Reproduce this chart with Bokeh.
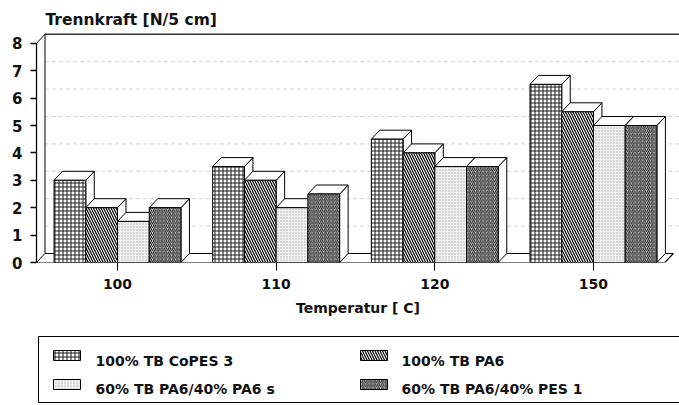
from bokeh.plotting import figure
from bokeh.models import Range1d, FixedTicker
from bokeh.layouts import column
from bokeh.embed import file_html
from bokeh.resources import INLINE
from bokeh.core.properties import value

# ---------------- data ----------------
temperatures = ["100", "110", "120", "150"]
series_names = ["100% TB CoPES 3", "100% TB PA6",
                "60% TB PA6/40% PA6 s", "60% TB PA6/40% PES 1"]
copes3 = [3.0, 3.5, 4.5, 6.5]
pa6 = [2.0, 3.0, 4.0, 5.5]
pa6_pa6s = [1.5, 2.0, 3.5, 5.0]
pa6_pes1 = [2.0, 2.5, 3.5, 5.0]
y_ticks = [0, 1, 2, 3, 4, 5, 6, 7, 8]
title_text = "Trennkraft [N/5 cm]"
x_title = "Temperatur [ C]"

series_values = [copes3, pa6, pa6_pa6s, pa6_pes1]

# ---------------- styles ----------------
FONT = value("DejaVu Sans")
TXT = "#111111"
styles = [
    dict(fill_color="white", hatch_pattern="cross", hatch_scale=4,
         hatch_color="#1a1a1a", hatch_weight=1.0),
    dict(fill_color="white", hatch_pattern="left_diagonal_line", hatch_scale=5,
         hatch_color="black", hatch_weight=1.2),
    dict(fill_color="#f0f0f0", hatch_pattern="dot", hatch_scale=3,
         hatch_color="#b4b4b4", hatch_weight=1.0),
    dict(fill_color="#c2c2c2", hatch_pattern="right_diagonal_line", hatch_scale=3.8,
         hatch_color="#222222", hatch_weight=1.0),
]

# geometry (pixels per unit)
PX_X = 31.73
PX_Y = 27.4
W = 679
HA = 330
LEFT = 36
BOTTOM = 68
frame_w = W - LEFT
frame_h = HA - BOTTOM
x_start = 2.5 - (117 - LEFT) / PX_X
x_end = x_start + frame_w / PX_X
y_end = frame_h / PX_Y
dx = 8.5 / PX_X
dy = 9.0 / PX_Y
group_w = 5
ymax = y_ticks[-1]

p = figure(width=W, height=HA, output_backend="svg", toolbar_location=None,
           x_range=Range1d(x_start, x_end), y_range=Range1d(0, y_end),
           min_border_left=LEFT, min_border_right=0, min_border_top=0,
           min_border_bottom=BOTTOM)
p.outline_line_color = None
p.grid.visible = False
p.background_fill_color = "white"
p.border_fill_color = "white"

# y axis
ya = p.yaxis[0]
ya.ticker = FixedTicker(ticks=y_ticks)
ya.bounds = (0, ymax)
ya.major_tick_out = 6
ya.major_tick_in = 0
ya.minor_tick_line_color = None
ya.axis_line_width = 1.3
ya.axis_line_color = "black"
ya.major_tick_line_color = "black"
ya.major_tick_line_width = 1.3
ya.major_label_text_font = "DejaVu Sans"
ya.major_label_text_font_style = "bold"
ya.major_label_text_font_size = "15px"
ya.major_label_text_color = TXT
ya.major_label_standoff = 8

# x axis
centers = [g * group_w + 2.5 for g in range(len(temperatures))]
xa = p.xaxis[0]
xa.ticker = FixedTicker(ticks=centers)
xa.major_label_overrides = {c: t for c, t in zip(centers, temperatures)}
xa.axis_line_color = None
xa.major_tick_out = 8
xa.major_tick_in = 0
xa.major_tick_line_color = "black"
xa.minor_tick_line_color = None
xa.major_label_text_font = "DejaVu Sans"
xa.major_label_text_font_style = "bold"
xa.major_label_text_font_size = "14px"
xa.major_label_text_color = TXT
xa.major_label_standoff = 8
xa.axis_label = x_title
xa.axis_label_text_font = "DejaVu Sans"
xa.axis_label_text_font_style = "bold"
xa.axis_label_text_font_size = "14px"
xa.axis_label_text_color = TXT
xa.axis_label_standoff = 8

# back-wall gridlines
grid_vals = [v for v in y_ticks if 0 < v < ymax]
p.segment(x0=[x_start + dx] * len(grid_vals), y0=[v + dy for v in grid_vals],
          x1=[x_end] * len(grid_vals), y1=[v + dy for v in grid_vals],
          line_color="#d2d2d2", line_width=1, line_dash="4 3")
# back wall top
p.segment(x0=[x_start + dx], y0=[ymax + dy], x1=[x_end], y1=[ymax + dy],
          line_color="#333333", line_width=1.6)
# left wall
p.segment(x0=[x_start + dx, x_start, x_start],
          y0=[dy, ymax, 0],
          x1=[x_start + dx, x_start + dx, x_start + dx],
          y1=[ymax + dy, ymax + dy, dy],
          line_color="black", line_width=1)
# floor
floor_end = len(temperatures) * group_w - 0.25
p.segment(x0=[x_start, x_start + dx, floor_end],
          y0=[0, dy, 0],
          x1=[floor_end, floor_end + dx, floor_end + dx],
          y1=[0, dy, dy],
          line_color="black", line_width=1.2)

# bars
sides_x, sides_y, tops_x, tops_y = [], [], [], []
fronts = []
for j, vals in enumerate(series_values):
    lefts, rights = [], []
    for g, v in enumerate(vals):
        l = g * group_w + 0.5 + j
        r = l + 1
        lefts.append(l)
        rights.append(r)
        sides_x.append([r, r + dx, r + dx, r])
        sides_y.append([0, dy, v + dy, v])
        tops_x.append([l, r, r + dx, l + dx])
        tops_y.append([v, v, v + dy, v + dy])
    fronts.append((lefts, rights, vals))

p.patches(sides_x, sides_y, fill_color="white", line_color="black", line_width=1)
p.patches(tops_x, tops_y, fill_color="white", line_color="black", line_width=1)
for (lefts, rights, vals), st in zip(fronts, styles):
    p.quad(left=lefts, right=rights, bottom=0, top=vals,
           line_color="black", line_width=1, **st)

# title
p.text(x=[x_start + 9 / PX_X], y=[(frame_h - 19) / PX_Y], text=[title_text],
       text_font=FONT, text_font_style="bold", text_font_size="15.5px",
       text_baseline="middle", text_align="left", text_color=TXT)

# ---------------- legend figure (page-pixel coordinates) ----------------
HB = 405 - HA
q = figure(width=W, height=HB, output_backend="svg", toolbar_location=None,
           x_range=Range1d(LEFT, W), y_range=Range1d(405, HA),
           x_axis_type=None, y_axis_type=None,
           min_border_left=LEFT, min_border_right=0,
           min_border_top=0, min_border_bottom=0)
q.outline_line_color = None
q.grid.visible = False

q.quad(left=[38], right=[W + 20], top=[336], bottom=[402],
       fill_color=None, line_color="black", line_width=1)

sw_left = [53, 360, 53, 360]
sw_top = [350, 350, 379, 379]
txt_x = [95, 401, 95, 401]
txt_y = [360, 360, 388, 388]
for i, st in enumerate(styles):
    q.quad(left=[sw_left[i]], right=[sw_left[i] + 27], top=[sw_top[i]],
           bottom=[sw_top[i] + 10], line_color="black", line_width=1, **st)
q.text(x=txt_x, y=txt_y, text=series_names, text_font=FONT,
       text_font_style="bold", text_font_size="14px", text_baseline="middle",
       text_align="left", text_color=TXT)

layout = column(p, q, spacing=0)
open("out.html", "w").write(file_html(layout, INLINE))
